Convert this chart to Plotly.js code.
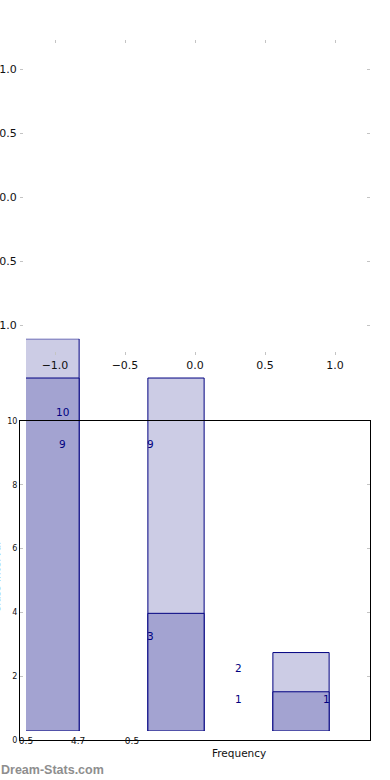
<!DOCTYPE html>
<html><head><meta charset="utf-8">
<script src="https://cdn.plot.ly/plotly-3.0.1.min.js"></script>
<style>html,body{margin:0;padding:0;background:#fff}#chart{width:390px;height:780px}</style>
</head><body><div id="chart"></div>
<script>
// ---- data ----
const classes = [0, 1, 2];
const cumulative = [10, 9, 2];
const frequency = [9, 3, 1];
const labelGroups = [[10, 9], [9, 3], [2, 1], [1]];
const mainXTickText = ['0.5', '4.7', '0.5'];
const mainYTicks = [0, 2, 4, 6, 8, 10];
const topXTicks = [-1.0, -0.5, 0.0, 0.5, 1.0];
const topXTickText = ['\u22121.0', '\u22120.5', '0.0', '0.5', '1.0'];
const topYTicks = [1.0, 0.5, 0.0, -0.5, -1.0];
const topYTickText = ['1.0', '0.5', '0.0', '0.5', '1.0'];
const xTitle = 'Frequency';
const yTitle = 'Class Interval';
const watermark = 'Dream-Stats.com';

// ---- layout helpers ----
const W = 390, H = 780;
const px = v => v / W;
const py = v => 1 - v / H;
const FONT = 'DejaVu Sans, sans-serif';
const NAVY = 'rgb(0,0,128)';
const TICKGRAY = '#c4c4c4';

const traces = [
  { type: 'bar', x: classes, y: cumulative, width: 0.45, xaxis: 'x', yaxis: 'y',
    marker: { color: 'rgb(204,204,229)', line: { color: NAVY, width: 1 } }, hoverinfo: 'skip' },
  { type: 'bar', x: classes, y: frequency, width: 0.45, xaxis: 'x', yaxis: 'y',
    marker: { color: 'rgb(163,163,209)', line: { color: NAVY, width: 1 } }, hoverinfo: 'skip' },
  { type: 'scatter', x: [], y: [], xaxis: 'x2', yaxis: 'y2', showlegend: false },
  { type: 'scatter', x: [], y: [], xaxis: 'x3', yaxis: 'y3', showlegend: false }
];

// label axis: same scale as the main y axis, but reaching a little higher
const mainBottom = 740, mainTop = 421, labelTop = 380;
const labelRangeTop = 10 * (mainBottom - labelTop) / (mainBottom - mainTop);

const annotations = [];
const groupStart = 0.09, groupStep = 0.705, labelLift = 0.27;
labelGroups.forEach((vals, g) => {
  vals.forEach(v => {
    annotations.push({ xref: 'x', yref: 'y4', x: groupStart + g * groupStep, y: v + labelLift,
      text: String(v), showarrow: false, xanchor: 'center', yanchor: 'middle',
      font: { family: FONT, size: 10.5, color: NAVY } });
  });
});
annotations.push({ xref: 'paper', yref: 'paper', x: px(239), y: py(753), text: xTitle,
  showarrow: false, xanchor: 'center', yanchor: 'middle', font: { family: FONT, size: 10.5, color: '#111' } });
annotations.push({ xref: 'paper', yref: 'paper', x: px(-4), y: py(578), text: yTitle, textangle: -90,
  showarrow: false, xanchor: 'center', yanchor: 'middle', font: { family: FONT, size: 10.5, color: '#111' } });
annotations.push({ xref: 'paper', yref: 'paper', x: px(-1), y: py(770), text: '<b>' + watermark + '</b>',
  showarrow: false, xanchor: 'left', yanchor: 'middle', font: { family: 'Liberation Sans, Arial, sans-serif', size: 12.5, color: '#8e8e8e' } });

const mainXTickPos = [0.017, 0.166, 0.32];

const layout = {
  width: W, height: H, margin: { l: 0, r: 0, t: 0, b: 0 },
  paper_bgcolor: '#fff', plot_bgcolor: 'rgba(0,0,0,0)',
  showlegend: false, barmode: 'overlay', bargap: 0,
  font: { family: FONT, color: '#111' },
  xaxis: { domain: [px(26), px(351)], range: [-0.2, 2.4], visible: false, anchor: 'y', fixedrange: true },
  yaxis: { domain: [py(731), py(338.8)], range: [0, 10], visible: false, anchor: 'x', fixedrange: true },
  yaxis4: { domain: [py(mainBottom), py(labelTop)], range: [0, labelRangeTop], visible: false, anchor: 'x', fixedrange: true },
  xaxis2: { domain: [px(20), px(370)], range: [0, 1], anchor: 'y2', showline: true, linecolor: '#000', linewidth: 1,
    mirror: true, ticks: '', tickvals: mainXTickPos, ticktext: mainXTickText, tickfont: { size: 9, family: FONT, color: '#111' },
    ticklabelstandoff: -8, showgrid: false, zeroline: false, fixedrange: true },
  yaxis2: { domain: [py(mainBottom), py(mainTop)], range: [0, 10], anchor: 'x2', showline: true, linecolor: '#000', linewidth: 1,
    mirror: 'ticks', ticks: 'inside', ticklen: 3, tickcolor: TICKGRAY, tickvals: mainYTicks,
    tickfont: { size: 8, family: FONT, color: '#111' }, showgrid: false, zeroline: false, fixedrange: true },
  xaxis3: { domain: [px(20), px(370)], range: [-1.25, 1.25], anchor: 'y3', showline: true, linecolor: 'rgba(0,0,0,0)',
    mirror: 'ticks', ticks: 'inside', ticklen: 3, tickcolor: TICKGRAY, tickvals: topXTicks, ticktext: topXTickText,
    tickfont: { size: 11, family: FONT, color: '#111' }, showgrid: false, zeroline: false, fixedrange: true },
  yaxis3: { domain: [py(355), py(40)], range: [-1.23, 1.23], anchor: 'x3', showline: true, linecolor: 'rgba(0,0,0,0)',
    mirror: 'ticks', ticks: 'inside', ticklen: 3, tickcolor: TICKGRAY, tickvals: topYTicks, ticktext: topYTickText,
    tickfont: { size: 11, family: FONT, color: '#111' }, showgrid: false, zeroline: false, fixedrange: true },
  annotations: annotations
};

Plotly.newPlot('chart', traces, layout, { staticPlot: true, displayModeBar: false });
</script>
</body></html>
